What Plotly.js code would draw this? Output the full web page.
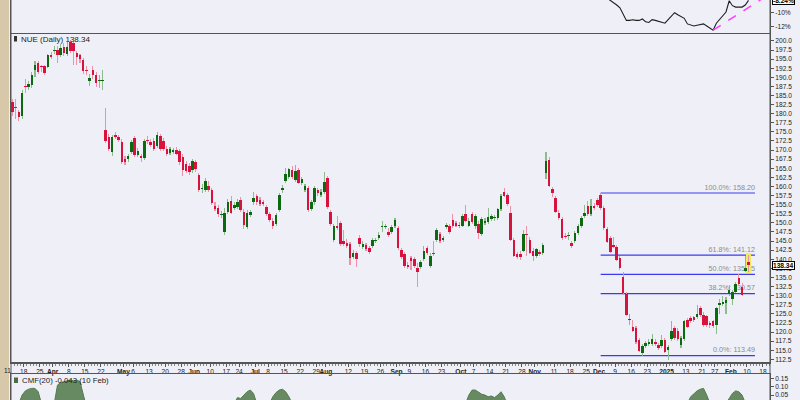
<!DOCTYPE html>
<html><head><meta charset="utf-8">
<script src="https://cdn.plot.ly/plotly-3.0.1.min.js"></script>
<style>html,body{margin:0;padding:0;background:#eff0f7;}#chart{width:800px;height:400px;}</style>
</head><body><div id="chart"></div>
<script>
// ---------- calendar ----------
const calendarStart = '2024-03-11';
const calendarEnd = '2025-02-18';
const marketHolidays = ['2024-03-29','2024-05-27','2024-06-19','2024-07-04','2024-09-02','2024-11-28','2024-12-25','2025-01-01','2025-01-09','2025-01-20','2025-02-17'];

// ---------- price data (daily candles, first candle 2024-03-12) ----------
const ticker = 'NUE';
const candleStart = '2024-03-12';
const opens = [
183.2,181.8,180.4,179.5,187.5,187.4,188.0,192.0,193.9,192.9,
193.0,192.8,196.2,197.3,197.5,196.2,198.4,196.4,199.6,199.4,
196.6,196.0,194.8,191.9,188.9,192.0,190.7,189.0,189.0,175.5,
173.5,169.4,174.2,173.5,172.2,167.6,167.6,169.4,173.3,168.7,
168.5,167.8,172.8,172.2,172.4,171.2,173.8,172.6,170.3,169.3,
169.6,170.0,169.7,168.2,166.2,165.6,164.4,166.8,163.2,159.3,
159.0,160.1,159.0,154.5,154.0,152.1,147.6,153.1,156.1,154.0,
154.3,156.3,153.1,148.8,152.2,155.6,157.4,156.3,155.8,154.3,
152.4,150.6,149.7,153.4,158.9,161.6,162.5,164.5,161.8,164.5,
160.9,159.0,159.5,153.7,155.6,159.0,157.7,158.6,162.3,153.1,
145.3,149.1,149.9,145.1,144.4,144.2,140.5,141.6,145.8,143.3,
144.0,143.0,143.6,144.9,145.8,148.8,148.9,147.6,147.6,149.0,
148.5,142.6,141.5,138.4,140.3,140.0,137.5,137.8,140.0,143.0,
138.2,141.7,145.3,146.9,145.3,148.8,149.0,150.8,150.0,149.1,
149.2,152.4,149.2,152.4,149.0,149.7,147.0,150.0,150.1,151.0,
151.2,151.3,153.7,158.6,157.7,152.6,145.3,141.5,141.5,142.4,
146.8,145.3,142.4,140.9,142.0,141.8,163.8,167.3,159.2,156.8,
152.8,151.0,146.4,146.3,144.4,145.1,147.3,149.0,151.9,154.5,
152.4,154.6,156.3,157.7,154.0,148.2,145.8,143.9,143.5,140.3,
135.2,130.5,123.2,121.5,121.0,117.8,114.2,116.2,116.7,116.7,
117.3,116.4,116.2,117.8,115.1,118.0,121.0,120.4,116.4,118.0,
123.3,123.8,124.0,124.0,126.5,124.7,124.3,122.4,122.9,121.9,
127.4,127.6,127.9,130.5,129.0,131.1,134.8,132.5,136.9,139.3];
const highs = [
184.1,184.0,181.0,186.5,189.5,189.0,191.5,194.5,194.5,193.5,
193.5,196.5,197.0,198.5,198.5,199.2,199.5,199.8,200.2,199.8,
197.2,196.5,195.3,193.0,191.0,193.0,191.5,190.5,192.0,181.6,
174.5,174.2,175.0,174.2,173.0,168.3,169.0,172.8,174.0,170.5,
169.0,173.0,174.0,173.0,173.2,175.0,174.5,173.2,171.0,170.8,
170.6,170.8,170.4,168.8,167.0,166.4,167.5,167.4,163.8,160.8,
162.2,161.5,159.5,155.6,154.8,153.2,154.2,156.5,157.5,155.6,
156.6,157.0,153.8,153.4,153.6,158.5,158.0,157.0,156.4,154.9,
153.0,151.2,152.8,158.2,160.4,165.0,165.2,165.5,166.0,165.0,
162.6,160.6,160.2,156.2,160.0,159.6,159.2,164.0,162.8,153.6,
149.8,152.0,150.5,148.0,145.5,144.8,142.6,142.2,146.6,145.0,
144.6,143.6,145.8,145.8,147.4,150.4,149.8,148.6,149.4,151.4,
149.2,143.2,142.0,139.2,141.0,140.6,139.0,139.8,143.6,143.6,
141.6,145.0,148.5,147.6,146.4,150.0,149.6,152.4,150.6,150.2,
152.4,155.0,151.2,153.0,152.4,150.4,151.6,151.2,154.0,152.4,
152.2,154.2,158.0,159.5,158.2,154.5,145.8,142.0,142.2,148.0,
149.0,146.0,143.0,143.2,142.6,144.6,169.6,168.0,159.8,157.4,
153.4,151.6,147.2,147.4,145.0,147.8,149.6,151.8,155.0,156.0,
156.5,155.4,156.8,158.2,154.6,148.8,146.4,146.0,144.0,140.8,
136.5,131.0,125.0,123.3,121.6,118.4,116.8,117.6,118.0,119.5,
118.0,117.0,119.2,118.4,116.4,123.0,121.6,121.0,118.8,123.4,
123.8,124.4,124.5,127.5,127.2,125.4,124.8,123.0,123.4,127.0,
129.0,130.0,129.6,133.0,131.6,133.8,136.0,133.4,141.0,141.3];
const lows = [
179.5,178.5,177.9,178.5,185.8,186.5,187.0,190.2,190.8,191.5,
190.5,192.5,195.0,196.5,193.9,195.5,195.8,195.8,196.8,193.5,
193.5,194.0,191.0,190.5,187.7,189.5,187.2,187.0,186.5,172.0,
169.8,168.5,173.0,172.2,166.2,165.8,166.8,168.8,168.2,168.0,
166.8,167.2,171.8,170.8,169.8,170.6,169.8,169.8,168.5,168.6,
168.8,168.6,165.8,163.0,163.6,163.2,163.8,164.0,158.6,158.2,
158.5,158.6,155.0,153.2,151.5,151.2,146.8,152.5,152.3,153.5,
153.8,153.0,148.2,148.2,151.6,155.0,155.0,154.6,154.5,151.8,
150.2,148.4,149.2,153.0,158.3,161.0,162.0,162.0,161.2,160.6,
160.4,158.5,153.0,153.2,155.0,157.5,157.2,158.0,153.8,149.2,
144.7,148.0,143.6,143.6,143.0,138.5,140.0,138.0,143.5,142.8,
142.4,141.4,143.0,144.4,145.2,147.6,148.2,146.2,147.0,148.6,
142.6,140.0,137.6,137.2,137.0,137.6,132.4,137.2,139.4,141.2,
137.5,141.0,144.8,144.5,144.8,148.2,147.0,148.6,148.8,148.6,
148.8,150.2,148.8,149.8,148.4,145.5,146.4,149.4,149.6,150.4,
150.6,150.8,153.2,157.0,154.6,145.0,140.5,140.0,139.8,142.0,
141.0,141.4,139.5,140.4,140.9,141.2,162.0,159.8,157.0,152.6,
150.8,145.4,145.6,145.2,143.2,144.6,146.8,148.6,151.4,152.0,
152.0,153.6,154.4,153.6,148.0,144.4,141.6,143.0,139.4,137.0,
130.2,124.3,122.0,120.0,116.8,114.5,113.49,115.6,116.2,116.2,
116.2,115.0,115.6,114.2,112.4,117.5,117.8,117.4,115.5,117.5,
121.0,122.4,122.8,123.5,124.2,121.4,121.4,121.2,121.0,119.5,
125.0,127.2,125.0,130.0,127.5,130.6,132.6,129.8,136.4,136.6];
const closes = [
180.4,181.5,179.2,185.6,187.2,188.2,190.7,193.5,191.4,192.7,
191.1,196.0,195.7,197.6,196.2,198.1,196.6,198.4,197.3,197.3,
195.7,195.1,191.8,191.7,189.8,190.5,188.4,189.2,189.2,172.6,
170.3,173.7,173.5,172.8,166.7,166.7,168.5,172.2,168.7,169.8,
167.8,172.4,172.4,171.4,170.3,174.2,170.3,170.3,169.0,170.3,
169.8,169.0,166.7,164.4,164.2,164.0,166.9,164.7,159.0,159.6,
161.5,159.0,155.4,153.7,152.4,152.3,152.6,155.6,152.8,154.9,
155.8,153.4,149.4,152.6,153.1,156.8,155.6,155.1,155.1,152.4,
150.8,149.0,152.2,157.7,159.7,163.4,164.7,162.5,164.3,161.0,
162.0,160.1,153.5,155.6,159.5,158.1,158.6,161.3,154.3,149.7,
149.1,148.5,144.2,144.2,143.6,140.3,141.8,140.0,144.2,144.2,
142.9,142.1,145.3,145.3,146.7,149.1,149.1,146.7,148.8,150.8,
143.0,140.5,138.2,137.8,139.6,138.2,136.6,139.3,142.4,141.6,
140.9,141.5,147.9,145.1,145.9,149.4,147.6,149.0,149.2,149.3,
151.9,150.6,150.6,150.3,151.9,147.3,151.0,150.6,151.5,151.8,
151.7,153.7,157.4,157.4,155.2,145.3,140.9,140.5,140.5,146.9,
146.6,141.8,140.9,142.7,141.4,143.9,167.1,160.1,158.1,153.1,
151.3,145.8,146.2,146.5,143.6,147.3,149.1,151.3,152.8,152.4,
154.5,154.0,154.9,154.0,148.5,144.8,142.1,143.5,139.8,137.5,
130.6,124.7,123.4,120.4,117.3,114.9,116.2,116.9,117.3,118.0,
116.7,115.5,117.8,114.6,115.8,120.4,118.3,118.0,118.3,122.9,
121.5,122.9,123.3,125.0,124.7,121.9,121.9,121.9,121.6,126.5,
128.1,128.2,128.8,131.6,131.1,133.2,133.2,130.2,137.5,138.34];

// ---------- Fibonacci retracement ----------
const fibHigh = 158.20;
const fibLow = 113.49;
const fibRatios = [1.0, 0.618, 0.5, 0.382, 0.0];
const fibStartDate = '2024-12-02';
const fibEndDate = '2025-02-12';

// ---------- upper panel: performance line (%), trading-day number from 2024-03-11 ----------
const perfDays = [185,186,187,188,189,190,191,192,193,194,195,196,197,198,199,200,201,202,203,204,205,206,207,208,209,210,211,212,213,214,215,216,217,218,219,220,221,222,223,224,225,226,227,228,229,230];
const perfValues = [-7.6,-7.9,-8.2,-8.6,-8.9,-9.3,-10.3,-11.1,-11.1,-11.0,-11.1,-11.1,-10.9,-11.3,-11.4,-11.0,-11.1,-11.2,-11.4,-11.5,-11.0,-10.5,-10.0,-10.3,-10.6,-10.8,-11.6,-11.8,-11.9,-11.8,-11.7,-11.6,-11.9,-12.2,-12.5,-11.5,-11.0,-10.4,-9.9,-8.3,-9.0,-9.2,-9.2,-9.2,-8.9,-8.24];
const trendDays = [219, 236];
const trendValues = [-12.5, -7.5];

// ---------- lower panel: CMF(20) ----------
const cmfDays = [1,3,4,5,6,7,8,9,10,12,14,15,16,17,18,19,20,21,22,23,24,45,69,70,71,72,73,74,75,76,77,79,81,82,83,84,85,86,87,88,95,115,141,142,143,144,145,146,147,148,149,150,151,152,153,154,155,175,200,210,211,212,213,214,215,216,217,218,220,223,224,225,226,227,228,229,230];
const cmfValues = [-0.04,0.0,0.05,0.075,0.085,0.09,0.09,0.07,0.0,-0.03,0.0,0.11,0.125,0.13,0.135,0.14,0.135,0.14,0.13,0.05,-0.02,-0.15,-0.02,0.0,0.035,0.03,0.05,0.07,0.08,0.06,0.0,-0.02,0.0,0.04,0.065,0.08,0.085,0.07,0.04,0.0,-0.1,-0.1,-0.02,0.0,0.05,0.08,0.08,0.065,0.055,0.05,0.04,0.045,0.035,0.05,0.07,0.04,-0.01,-0.2,-0.1,-0.02,0.0,0.04,0.06,0.075,0.085,0.09,0.05,0.0,-0.03,0.0,0.03,0.06,0.075,0.07,0.05,0.02,-0.043];
const cmfLabel = 'CMF(20) -0.043 (10 Feb)';

// ---------- date axis labels ----------
const tickDates = ['2024-03-11','2024-03-18','2024-03-25','2024-04-01','2024-04-08','2024-04-15','2024-04-22','2024-05-01','2024-05-06','2024-05-13','2024-05-20','2024-05-28','2024-06-03','2024-06-10','2024-06-17','2024-06-24','2024-07-01','2024-07-08','2024-07-15','2024-07-22','2024-07-29','2024-08-01','2024-08-12','2024-08-19','2024-08-26','2024-09-03','2024-09-09','2024-09-16','2024-09-23','2024-10-01','2024-10-07','2024-10-14','2024-10-21','2024-10-28','2024-11-01','2024-11-11','2024-11-18','2024-11-25','2024-12-02','2024-12-09','2024-12-16','2024-12-23','2025-01-02','2025-01-13','2025-01-21','2025-01-27','2025-02-03','2025-02-10','2025-02-18'];
const tickLabels = ['11','18','25','<b>Apr</b>','8','15','22','<b>May</b>','6','13','20','28','<b>Jun</b>','10','17','24','<b>Jul</b>','8','15','22','29','<b>Aug</b>','12','19','26','<b>Sep</b>','9','16','23','<b>Oct</b>','7','14','21','28','<b>Nov</b>','11','18','25','<b>Dec</b>','9','16','23','<b>2025</b>','13','21','27','<b>Feb</b>','10','18'];

// ---------- build ----------
function tradingDays(start, end, holidays) {
  const out = [];
  const d = new Date(start + 'T00:00:00Z');
  const e = new Date(end + 'T00:00:00Z');
  while (d <= e) {
    const wd = d.getUTCDay();
    const s = d.toISOString().slice(0, 10);
    if (wd !== 0 && wd !== 6 && !holidays.includes(s)) out.push(s);
    d.setUTCDate(d.getUTCDate() + 1);
  }
  return out;
}
const days = tradingDays(calendarStart, calendarEnd, marketHolidays);
const dayIdx = d => days.indexOf(d);
const x0 = dayIdx(candleStart);
const xs = opens.map((_, k) => x0 + k);
const n = opens.length;
const lastClose = closes[n - 1];

const UP = '#0b6a10', DOWN = '#d8123c', UPW = '#8dbb8c', DOWNW = '#eb93a8';
const isUp = closes.map((c, k) => c >= opens[k]);

const wickTrace = {
  type: 'bar', x: xs, base: lows, y: highs.map((h, k) => h - lows[k]), width: 0.34,
  marker: {color: isUp.map(u => u ? UPW : DOWNW), line: {width: 0}},
  xaxis: 'x', yaxis: 'y', hoverinfo: 'skip'
};
const bodyTrace = {
  type: 'bar', x: xs, base: opens.map((o, k) => Math.min(o, closes[k])),
  y: opens.map((o, k) => Math.max(Math.abs(closes[k] - o), 0.3)), width: 0.78,
  marker: {color: isUp.map(u => u ? UP : DOWN), line: {width: 0}},
  xaxis: 'x', yaxis: 'y', hoverinfo: 'skip'
};
const highlightTrace = {
  type: 'bar', x: [xs[n - 1]], base: [lows[n - 1] - 0.4], y: [highs[n - 1] - lows[n - 1] + 0.8], width: 1.8,
  marker: {color: '#f3ec62', line: {width: 0}}, xaxis: 'x', yaxis: 'y', hoverinfo: 'skip'
};
const perfTrace = {
  type: 'scatter', mode: 'lines', x: perfDays, y: perfValues,
  line: {color: '#1e1e1e', width: 1.1}, xaxis: 'x2', yaxis: 'y2', hoverinfo: 'skip'
};
const trendTrace = {
  type: 'scatter', mode: 'lines', x: trendDays, y: trendValues,
  line: {color: '#ff3cff', width: 1.5, dash: 'dash'}, xaxis: 'x2', yaxis: 'y2', hoverinfo: 'skip'
};
const cmfTrace = {
  type: 'scatter', mode: 'lines', x: cmfDays, y: cmfValues, fill: 'tozeroy',
  line: {color: '#557a50', width: 1}, fillcolor: '#688a62', xaxis: 'x3', yaxis: 'y3', hoverinfo: 'skip'
};

const xMin = 0.535, xMax = 236.69;
const PW = 759;
const tickvals = tickDates.map(d => dayIdx(d) - 0.5);

const fibX0 = dayIdx(fibStartDate), fibX1 = dayIdx(fibEndDate);
const shapes = [
  {type: 'rect', xref: 'paper', yref: 'paper', x0: -11 / PW, x1: -2 / PW, y0: 0, y1: 1, fillcolor: '#d8c8aa', line: {width: 0}, layer: 'below'},
  {type: 'line', xref: 'paper', yref: 'paper', x0: 0, x1: 0, y0: 0, y1: 1, line: {color: '#555', width: 1}},
  {type: 'line', xref: 'paper', yref: 'paper', x0: 1, x1: 1, y0: 0, y1: 1, line: {color: '#555', width: 1}},
  {type: 'rect', xref: 'paper', yref: 'paper', x0: 3 / PW, x1: 6 / PW, y0: 1 - 41.5 / 400, y1: 1 - 36 / 400, fillcolor: '#333', line: {width: 0}},
  {type: 'rect', xref: 'paper', yref: 'paper', x0: 3 / PW, x1: 7 / PW, y0: 1 - 383 / 400, y1: 1 - 377.5 / 400, fillcolor: '#4d6b48', line: {width: 0}}
];
fibRatios.forEach(r => {
  const lv = fibLow + r * (fibHigh - fibLow);
  const txt = (r * 100).toFixed(1) + '%: ' + (Math.round(lv * 100 + 1e-6) / 100).toFixed(2);
  shapes.push({
    type: 'line', xref: 'x', yref: 'y', x0: fibX0, x1: fibX1, y0: lv, y1: lv, layer: 'below',
    line: {color: '#3a3af2', width: 1.2},
    label: {text: txt, textposition: 'end', xanchor: 'right', yanchor: 'bottom', padding: 1.5,
            font: {size: 7.2, color: '#8a8a8a', family: 'Liberation Sans, Arial, sans-serif'}}
  });
});

const axisFont = {size: 6.6, color: '#222', family: 'Liberation Sans, Arial, sans-serif'};
const boxFont = {size: 6.6, color: '#000', family: 'Liberation Sans, Arial, sans-serif'};
// first date label sits just left of the plotting area, so it is placed as a paper annotation
const firstTickPx = (dayIdx(tickDates[0]) - 0.5 - xMin) * (PW / (xMax - xMin));
const annotations = [
  {xref: 'paper', yref: 'paper', x: 0, y: 1 - 39 / 400, xshift: 7.5, xanchor: 'left', yanchor: 'middle', showarrow: false,
   text: ticker + ' (Daily) ' + lastClose.toFixed(2), font: {size: 8, color: '#222'}},
  {xref: 'paper', yref: 'paper', x: 0, y: 1 - 380 / 400, xshift: 9, xanchor: 'left', yanchor: 'middle', showarrow: false,
   text: cmfLabel, font: {size: 7.8, color: '#222'}},
  {xref: 'paper', yref: 'paper', x: firstTickPx / PW, y: 0.095, yshift: -4, xanchor: 'center', yanchor: 'top', showarrow: false,
   text: tickLabels[0], font: axisFont, borderpad: 0},
  {xref: 'paper', yref: 'y', x: 1, y: lastClose, xshift: 2, xanchor: 'left', yanchor: 'middle', showarrow: false,
   text: '<b>' + lastClose.toFixed(2) + '</b>', font: boxFont, bgcolor: '#ffffff', bordercolor: '#000', borderwidth: 1, borderpad: 0},
  {xref: 'paper', yref: 'y2', x: 1, y: perfValues[perfValues.length - 1], xshift: 2, xanchor: 'left', yanchor: 'middle', showarrow: false,
   text: '<b>' + perfValues[perfValues.length - 1].toFixed(2) + '%</b>', font: boxFont, bgcolor: '#ffffff', bordercolor: '#000', borderwidth: 1, borderpad: 0}
];

const layout = {
  width: 800, height: 400,
  margin: {l: 11, r: 30, t: 0, b: 0, pad: 0},
  paper_bgcolor: '#eff0f7', plot_bgcolor: '#eff0f7',
  showlegend: false, barmode: 'overlay', bargap: 0,
  font: {family: 'Liberation Sans, Arial, sans-serif', size: 7, color: '#222'},
  xaxis: {domain: [0, 1], anchor: 'y', range: [xMin, xMax], tickmode: 'array', tickvals: tickvals, ticktext: tickLabels,
    tickangle: 0, ticks: 'outside', ticklen: 3, tickwidth: 1, tickcolor: '#555', showline: true, linecolor: '#555', linewidth: 1.5,
    mirror: true, showgrid: false, zeroline: false, tickfont: axisFont,
    minor: {ticks: 'outside', ticklen: 2, tick0: 0.5, dtick: 1, tickcolor: '#888', tickwidth: 1, showgrid: false}},
  yaxis: {domain: [0.095, 0.915], anchor: 'x', side: 'right', range: [111.76, 201.9], tick0: 0, dtick: 2.5, tickformat: '.1f',
    ticks: 'outside', ticklen: 3, tickcolor: '#555', showline: true, linecolor: '#555', mirror: true, showgrid: false, zeroline: false, tickfont: axisFont},
  xaxis2: {domain: [0, 1], anchor: 'y2', matches: 'x', showticklabels: false, ticks: '', showline: false, showgrid: false, zeroline: false},
  yaxis2: {domain: [0.915, 1], anchor: 'x2', side: 'right', range: [-13.04, -8.19], tickmode: 'array', tickvals: [-10, -12], ticktext: ['-10%', '-12%'],
    ticks: 'outside', ticklen: 3, tickcolor: '#555', showline: true, linecolor: '#555', mirror: true, showgrid: false, zeroline: false, tickfont: axisFont},
  xaxis3: {domain: [0, 1], anchor: 'y3', matches: 'x', showticklabels: false, ticks: '', showline: true, linecolor: '#555', mirror: true, showgrid: false, zeroline: false},
  yaxis3: {domain: [0, 0.065], anchor: 'x3', side: 'right', range: [0.0208, 0.1756], tickmode: 'array', tickvals: [0.05, 0.10, 0.15], ticktext: ['0.05', '0.10', '0.15'],
    ticks: 'outside', ticklen: 3, tickcolor: '#555', showline: true, linecolor: '#555', mirror: true, showgrid: false, zeroline: false, tickfont: axisFont},
  shapes: shapes,
  annotations: annotations
};

Plotly.newPlot('chart', [highlightTrace, wickTrace, bodyTrace, perfTrace, trendTrace, cmfTrace], layout, {staticPlot: true, displayModeBar: false});
</script>
</body></html>
